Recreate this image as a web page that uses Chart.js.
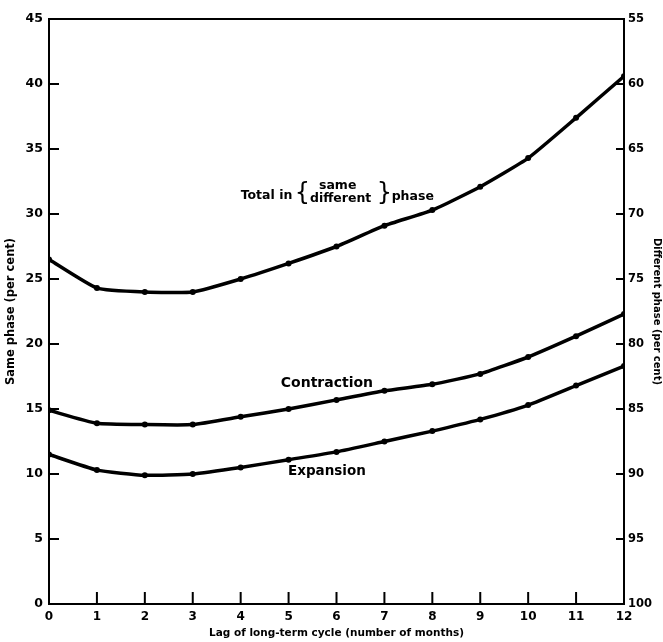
<!DOCTYPE html>
<html>
<head>
<meta charset="utf-8">
<script src="https://cdn.jsdelivr.net/npm/chart.js@4.4.0/dist/chart.umd.min.js"></script>
<style>
  html, body { margin: 0; padding: 0; background: #fff; }
  #wrap { width: 663px; height: 642px; }
</style>
</head>
<body>
<div id="wrap"><canvas id="chart" width="663" height="642"></canvas></div>
<script>
// lag of long-term cycle, months
const lags = [0, 1, 2, 3, 4, 5, 6, 7, 8, 9, 10, 11, 12]
// same phase, per cent
const totalSame = [26.5, 24.3, 24.0, 24.0, 25.0, 26.2, 27.5, 29.1, 30.3, 32.1, 34.3, 37.4, 40.6]
const contraction = [14.9, 13.9, 13.8, 13.8, 14.4, 15.0, 15.7, 16.4, 16.9, 17.7, 19.0, 20.6, 22.3]
const expansion = [11.5, 10.3, 9.9, 10.0, 10.5, 11.1, 11.7, 12.5, 13.3, 14.2, 15.3, 16.8, 18.3]

const FONT = "'DejaVu Sans', 'Liberation Sans', sans-serif"

function pts(arr) {
  return arr.map((v, i) => ({ x: lags[i], y: v }))
}

function lineSet(arr) {
  return {
    data: pts(arr),
    borderColor: '#000',
    borderWidth: 3.5,
    pointRadius: 3,
    pointBackgroundColor: '#000',
    pointBorderWidth: 0,
    tension: 0.15,
    yAxisID: 'y'
  }
}

// frame, inward ticks and curve labels
const frame = {
  id: 'frame',
  afterDraw(chart) {
    const ctx = chart.ctx
    const a = chart.chartArea
    const x = chart.scales.x, y = chart.scales.y, y2 = chart.scales.y2
    ctx.save()
    ctx.strokeStyle = '#000'
    ctx.lineWidth = 2
    ctx.strokeRect(a.left, a.top, a.right - a.left, a.bottom - a.top)
    ctx.beginPath()
    for (let v = 5; v < 45; v += 5) {
      const py = y.getPixelForValue(v)
      ctx.moveTo(a.left, py); ctx.lineTo(a.left + 10, py)
    }
    for (let v = 60; v < 100; v += 5) {
      const py = y2.getPixelForValue(v)
      ctx.moveTo(a.right, py); ctx.lineTo(a.right - 8, py)
    }
    for (let v = 1; v < 12; v++) {
      const px = x.getPixelForValue(v)
      ctx.moveTo(px, a.bottom); ctx.lineTo(px, a.bottom - 12)
    }
    ctx.stroke()

    ctx.fillStyle = '#000'
    ctx.textBaseline = 'middle'
    ctx.textAlign = 'center'
    ctx.font = 'bold 14px ' + FONT
    ctx.fillText('Contraction', x.getPixelForValue(5.8), y.getPixelForValue(17.0))
    ctx.font = 'bold 13.5px ' + FONT
    ctx.fillText('Expansion', x.getPixelForValue(5.8), y.getPixelForValue(10.2))

    const tx = x.getPixelForValue(4.0), ty = y.getPixelForValue(31.4)
    ctx.textAlign = 'left'
    ctx.font = 'bold 12.5px ' + FONT
    ctx.fillText('Total in', tx, ty)
    ctx.font = '24px ' + FONT
    ctx.fillText('{', tx + 54, ty - 2)
    ctx.fillText('}', tx + 136, ty - 2)
    ctx.textAlign = 'center'
    ctx.font = 'bold 12.5px ' + FONT
    ctx.fillText('same', tx + 97, ty - 10)
    ctx.fillText('different', tx + 100, ty + 3)
    ctx.textAlign = 'left'
    ctx.fillText('phase', tx + 151, ty + 1)
    ctx.restore()
  }
}

new Chart(document.getElementById('chart'), {
  type: 'line',
  data: {
    datasets: [lineSet(totalSame), lineSet(contraction), lineSet(expansion)]
  },
  options: {
    responsive: false,
    animation: false,
    layout: { padding: { top: 19, right: 0, left: 0, bottom: 0 } },
    plugins: { legend: { display: false }, tooltip: { enabled: false } },
    scales: {
      x: {
        type: 'linear',
        min: 0, max: 12,
        grid: { display: false, drawTicks: false },
        border: { display: false },
        ticks: { stepSize: 1, color: '#000', padding: 6, font: { family: FONT, size: 12, weight: 'bold' } },
        title: {
          display: true, text: 'Lag of long-term cycle (number of months)', color: '#000',
          padding: { top: 0, bottom: 2 },
          font: { family: FONT, size: 10.5, weight: 'bold' }
        },
        afterFit(s) { s.height = 38 }
      },
      y: {
        position: 'left',
        min: 0, max: 45,
        grid: { display: false, drawTicks: false },
        border: { display: false },
        ticks: { stepSize: 5, color: '#000', padding: 6, font: { family: FONT, size: 12.5, weight: 'bold' } },
        title: {
          display: true, text: 'Same phase (per cent)', color: '#000',
          padding: { top: 4, bottom: 0 },
          font: { family: FONT, size: 11.5, weight: 'bold' }
        },
        afterFit(s) { s.width = 49 }
      },
      y2: {
        position: 'right',
        min: 55, max: 100,
        reverse: true,
        grid: { display: false, drawTicks: false },
        border: { display: false },
        ticks: { stepSize: 5, color: '#000', padding: 4, font: { family: FONT, size: 11.5, weight: 'bold' } },
        title: {
          display: true, text: 'Different phase (per cent)', color: '#000',
          padding: { top: 0, bottom: 1 },
          font: { family: FONT, size: 10, weight: 'bold' }
        },
        afterFit(s) { s.width = 39 }
      }
    }
  },
  plugins: [frame]
})
</script>
</body>
</html>
